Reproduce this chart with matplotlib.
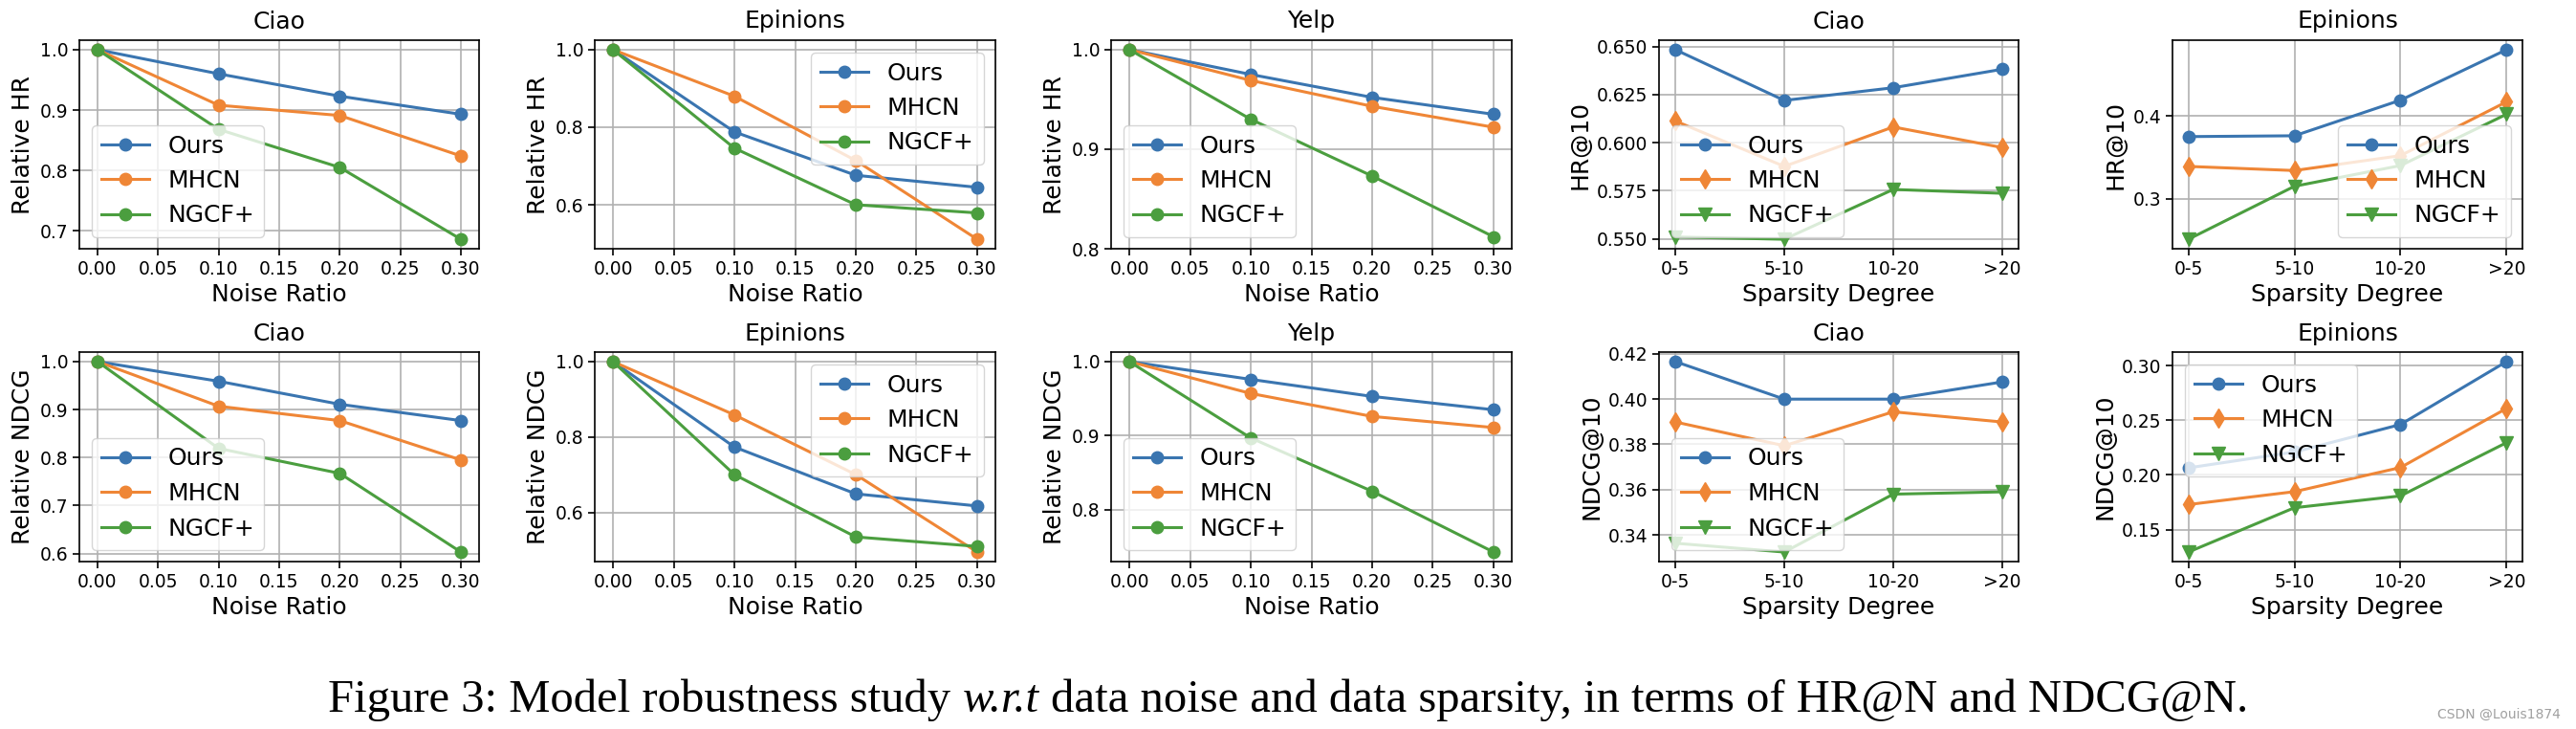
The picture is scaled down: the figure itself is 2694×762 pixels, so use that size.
import numpy as np
import matplotlib
matplotlib.use('Agg')
import matplotlib.pyplot as plt
from matplotlib.transforms import Bbox

# ---- data ----
methods = ['Ours', 'MHCN', 'NGCF+']
noise = [0.0, 0.1, 0.2, 0.3]
sparsity = ['0-5', '5-10', '10-20', '>20']

# relative HR under noise
ciao_hr = [[1.0, 0.960, 0.923, 0.893],
           [1.0, 0.908, 0.891, 0.824],
           [1.0, 0.868, 0.805, 0.686]]
epin_hr = [[1.0, 0.788, 0.676, 0.645],
           [1.0, 0.880, 0.714, 0.511],
           [1.0, 0.746, 0.600, 0.579]]
yelp_hr = [[1.0, 0.975, 0.952, 0.935],
           [1.0, 0.969, 0.943, 0.922],
           [1.0, 0.930, 0.873, 0.812]]

# relative NDCG under noise
ciao_ndcg = [[1.0, 0.959, 0.911, 0.877],
             [1.0, 0.907, 0.877, 0.795],
             [1.0, 0.819, 0.767, 0.603]]
epin_ndcg = [[1.0, 0.774, 0.650, 0.618],
             [1.0, 0.859, 0.701, 0.496],
             [1.0, 0.701, 0.536, 0.511]]
yelp_ndcg = [[1.0, 0.976, 0.953, 0.935],
             [1.0, 0.957, 0.926, 0.911],
             [1.0, 0.897, 0.825, 0.743]]

# HR@10 / NDCG@10 under sparsity
ciao_sp_hr = [[0.6484, 0.6220, 0.6286, 0.6382],
              [0.6113, 0.5877, 0.6082, 0.5975],
              [0.5510, 0.5498, 0.5757, 0.5737]]
epin_sp_hr = [[0.375, 0.376, 0.419, 0.480],
              [0.339, 0.334, 0.352, 0.417],
              [0.251, 0.315, 0.340, 0.402]]
ciao_sp_ndcg = [[0.4166, 0.4000, 0.4000, 0.4076],
                [0.3899, 0.3794, 0.3944, 0.3899],
                [0.3363, 0.3324, 0.3580, 0.3590]]
epin_sp_ndcg = [[0.2065, 0.2210, 0.2462, 0.3038],
                [0.1729, 0.1847, 0.2068, 0.2609],
                [0.1294, 0.1700, 0.1808, 0.2296]]

colors = ['#3a75b0', '#ef8636', '#4b9e3f']

W, H = 2694, 762
fig = plt.figure(figsize=(W / 100, H / 100), dpi=100)

# axes boxes in pixels (from top-left)
cols = [(83, 501), (622, 1041), (1162, 1581), (1735, 2111), (2272, 2638)]
rows = [(42, 260), (368, 587)]
label_cut = [324, 650]   # each row image was cropped just under the xlabel baseline


def make_ax(r, c):
    l, rr = cols[c]
    t, b = rows[r]
    ax = fig.add_axes([l / W, 1 - b / H, (rr - l) / W, (b - t) / H])
    ax._row = r
    return ax


def style(ax, title, xlabel, ylabel, loc):
    ax.set_title(title, fontsize=18, pad=9)
    ax.set_xlabel(xlabel, fontsize=18)
    ax.set_ylabel(ylabel, fontsize=18)
    ax.grid(True, color='#b0b0b0', lw=1.2)
    ax.tick_params(labelsize=13.5, width=1.2, length=5)
    for s in ax.spines.values():
        s.set_linewidth(1.2)
    ax.legend(loc=loc, fontsize=18)
    ax.xaxis.label.set_clip_box(Bbox([[0, H - label_cut[ax._row]], [W, H]]))


def noise_panel(ax, data, title, ylabel, loc, yticks):
    for i, m in enumerate(methods):
        ax.plot(noise, data[i], '-o', color=colors[i], lw=2.2, ms=9, label=m)
    ax.set_xticks([0.0, 0.05, 0.1, 0.15, 0.2, 0.25, 0.3])
    ax.set_xticklabels(['0.00', '0.05', '0.10', '0.15', '0.20', '0.25', '0.30'])
    ax.set_yticks(yticks)
    style(ax, title, 'Noise Ratio', ylabel, loc)


def sparse_panel(ax, data, title, ylabel, loc, yticks, fmt):
    mk = ['o', 'd', 'v']
    x = np.arange(len(sparsity))
    for i, m in enumerate(methods):
        ax.plot(x, data[i], '-', marker=mk[i], color=colors[i], lw=2.2,
                ms=10 if mk[i] != 'o' else 9, label=m)
    ax.set_xticks(x)
    ax.set_xticklabels(sparsity)
    ax.set_yticks(yticks)
    ax.set_yticklabels([fmt % v for v in yticks])
    style(ax, title, 'Sparsity Degree', ylabel, loc)


noise_panel(make_ax(0, 0), ciao_hr, 'Ciao', 'Relative HR', 'lower left', [0.7, 0.8, 0.9, 1.0])
noise_panel(make_ax(0, 1), epin_hr, 'Epinions', 'Relative HR', 'upper right', [0.6, 0.8, 1.0])
noise_panel(make_ax(0, 2), yelp_hr, 'Yelp', 'Relative HR', 'lower left', [0.8, 0.9, 1.0])
sparse_panel(make_ax(0, 3), ciao_sp_hr, 'Ciao', 'HR@10', 'lower left',
             [0.550, 0.575, 0.600, 0.625, 0.650], '%.3f')
sparse_panel(make_ax(0, 4), epin_sp_hr, 'Epinions', 'HR@10', 'lower right', [0.3, 0.4], '%.1f')

noise_panel(make_ax(1, 0), ciao_ndcg, 'Ciao', 'Relative NDCG', 'lower left', [0.6, 0.7, 0.8, 0.9, 1.0])
noise_panel(make_ax(1, 1), epin_ndcg, 'Epinions', 'Relative NDCG', 'upper right', [0.6, 0.8, 1.0])
noise_panel(make_ax(1, 2), yelp_ndcg, 'Yelp', 'Relative NDCG', 'lower left', [0.8, 0.9, 1.0])
sparse_panel(make_ax(1, 3), ciao_sp_ndcg, 'Ciao', 'NDCG@10', 'lower left',
             [0.34, 0.36, 0.38, 0.40, 0.42], '%.2f')
sparse_panel(make_ax(1, 4), epin_sp_ndcg, 'Epinions', 'NDCG@10', 'upper left',
             [0.15, 0.20, 0.25, 0.30], '%.2f')

# caption, with the italic "w.r.t" laid out piece by piece
parts = [('Figure 3: Model robustness study', 'normal'),
         ('w.r.t', 'italic'),
         ('data noise and data sparsity, in terms of HR@N and NDCG@N.', 'normal')]
renderer = fig.canvas.get_renderer()
cap_y = 1 - 744 / H
texts = [fig.text(0, cap_y, s, fontsize=35, family='Liberation Serif', style=st,
                  va='baseline') for s, st in parts]
space = fig.text(0, cap_y, 'a a', fontsize=35, family='Liberation Serif')
aa = fig.text(0, cap_y, 'aa', fontsize=35, family='Liberation Serif')
sp = space.get_window_extent(renderer).width - aa.get_window_extent(renderer).width
space.remove()
aa.remove()
widths = [t.get_window_extent(renderer).width for t in texts]
x = W / 2 - (sum(widths) + sp * (len(widths) - 1)) / 2
for t, w in zip(texts, widths):
    t.set_x(x / W)
    x += w + sp

fig.text(2678 / W, 1 - 747 / H, 'CSDN @Louis1874', ha='right', va='center',
         fontsize=10, color='#a0a0a0')

fig.savefig('out.png', dpi=100)
